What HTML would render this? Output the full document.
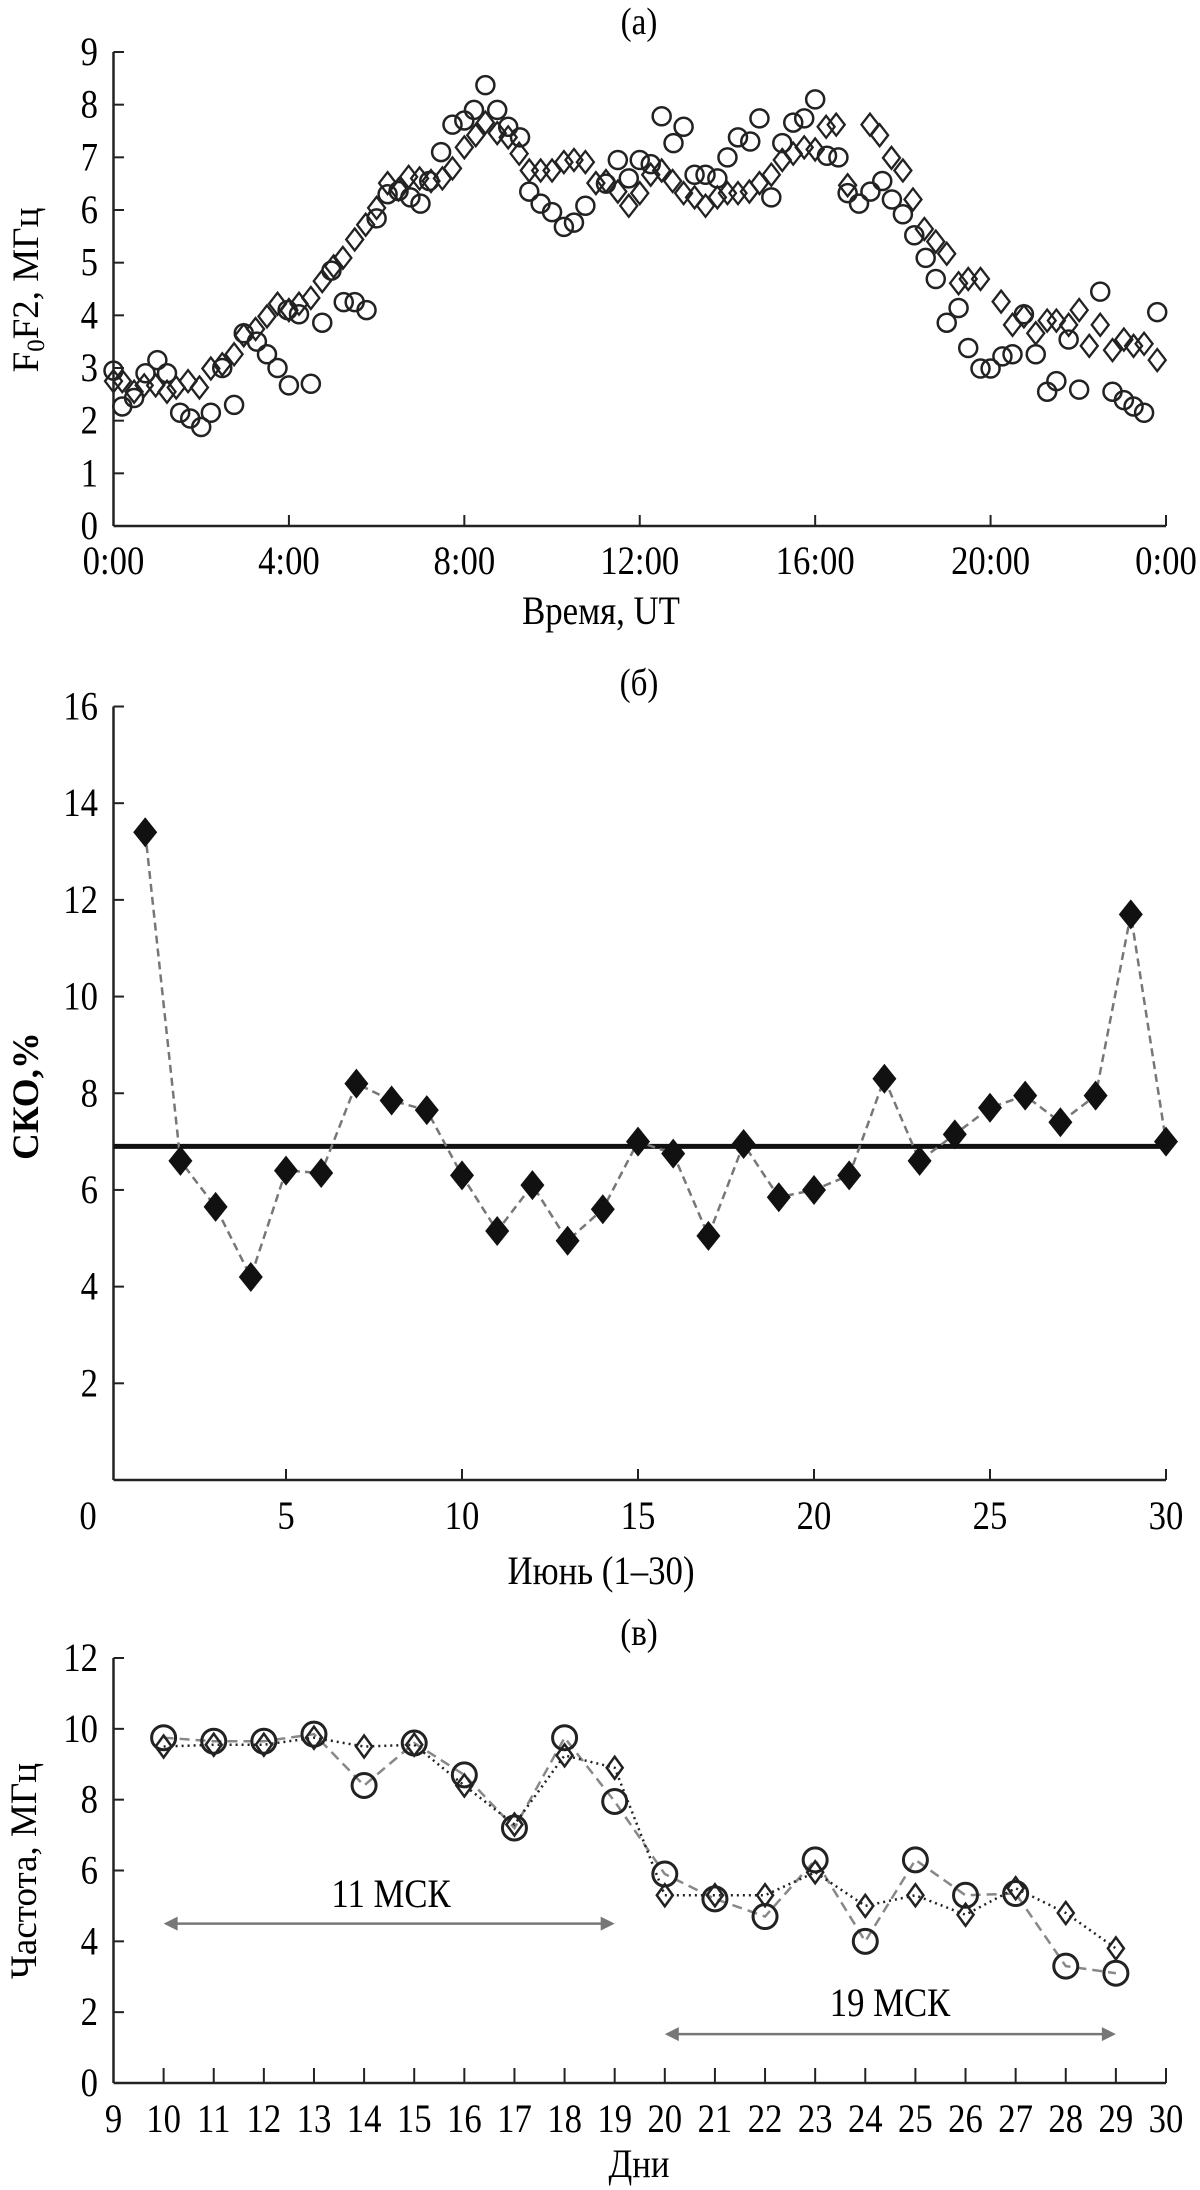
<!DOCTYPE html>
<html><head><meta charset="utf-8"><style>
html,body{margin:0;padding:0;background:#fff;}
svg{display:block;font-family:"Liberation Serif",serif;}
</style></head><body>
<svg id="fig" width="1200" height="2190" viewBox="0 0 1200 2190" xmlns="http://www.w3.org/2000/svg">
<text transform="translate(639,34) scale(0.87,1)" font-size="38" text-anchor="middle">(a)</text>
<text transform="translate(601,624) scale(0.87,1)" font-size="40" text-anchor="middle">Время, UT</text>
<text transform="translate(38,290) rotate(-90)" font-size="37" text-anchor="middle">F<tspan font-size="25" dy="6">0</tspan><tspan dy="-6">F2, МГц</tspan></text>
<text transform="translate(639,695) scale(0.87,1)" font-size="38" text-anchor="middle">(б)</text>
<text transform="translate(601,1584) scale(0.87,1)" font-size="40" text-anchor="middle">Июнь (1–30)</text>
<text transform="translate(38,1096) rotate(-90)" font-size="37" font-weight="bold" text-anchor="middle">СКО,%</text>
<text transform="translate(639,1645) scale(0.87,1)" font-size="38" text-anchor="middle">(в)</text>
<text transform="translate(639,2177) scale(0.87,1)" font-size="40" text-anchor="middle">Дни</text>
<text transform="translate(36,1871) rotate(-90)" font-size="37" text-anchor="middle">Частота, МГц</text>
</svg>
<script>
// Panel (a): hour-of-day, foF2 (MHz)
const aCircleHours=[0,0.2,0.47,0.73,1.0,1.22,1.52,1.75,2.0,2.22,2.48,2.75,2.97,3.27,3.5,3.74,3.97,4.0,4.23,4.5,4.76,4.97,5.25,5.5,5.77,6.0,6.25,6.5,6.77,7.0,7.2,7.47,7.73,8.0,8.22,8.48,8.75,9.0,9.27,9.48,9.74,10.0,10.27,10.5,10.76,11.23,11.5,11.75,12.0,12.25,12.5,12.77,13.0,13.25,13.5,13.77,14.0,14.24,14.52,14.73,15.0,15.25,15.5,15.75,16.0,16.27,16.53,16.74,17.0,17.26,17.53,17.75,18.0,18.26,18.52,18.75,19.0,19.27,19.49,19.77,20.0,20.27,20.5,20.76,21.03,21.29,21.5,21.78,22.02,22.5,22.78,23.04,23.26,23.5,23.8];
const aCircleValues=[2.95,2.27,2.43,2.9,3.15,2.9,2.15,2.04,1.88,2.15,3.0,2.3,3.66,3.5,3.26,3.0,4.1,2.67,4.02,2.7,3.86,4.85,4.25,4.25,4.1,5.84,6.3,6.36,6.24,6.12,6.55,7.1,7.62,7.7,7.9,8.37,7.9,7.58,7.38,6.35,6.12,5.96,5.68,5.76,6.08,6.5,6.95,6.6,6.95,6.87,7.78,7.27,7.58,6.67,6.67,6.6,7.0,7.38,7.3,7.74,6.24,7.27,7.66,7.74,8.1,7.03,7.0,6.32,6.12,6.35,6.55,6.2,5.92,5.52,5.09,4.69,3.86,4.14,3.38,2.99,2.99,3.22,3.26,4.02,3.26,2.55,2.75,3.54,2.59,4.45,2.55,2.39,2.27,2.15,4.06];
const aDiamondHours=[0,0.2,0.47,0.7,0.96,1.22,1.43,1.7,1.96,2.22,2.48,2.75,2.97,3.24,3.5,3.74,4.0,4.23,4.5,4.76,5.02,5.23,5.5,5.75,6.0,6.25,6.5,6.73,6.98,7.24,7.5,7.73,8.0,8.26,8.48,8.75,9.0,9.25,9.48,9.74,10.0,10.27,10.5,10.76,11.0,11.23,11.5,11.75,12.0,12.25,12.5,12.75,13.0,13.25,13.5,13.77,14.0,14.24,14.5,14.73,15.0,15.25,15.5,15.75,16.0,16.25,16.48,16.74,17.25,17.47,17.74,18.0,18.23,18.49,18.75,19.0,19.27,19.49,19.77,20.24,20.5,20.76,21.03,21.29,21.5,21.78,22.02,22.25,22.5,22.78,23.04,23.26,23.5,23.8];
const aDiamondValues=[2.75,2.75,2.55,2.67,2.67,2.55,2.63,2.75,2.63,2.99,3.07,3.26,3.62,3.74,3.98,4.22,4.1,4.22,4.33,4.65,4.93,5.09,5.44,5.72,6.04,6.51,6.39,6.63,6.6,6.55,6.6,6.79,7.19,7.42,7.66,7.46,7.38,7.07,6.75,6.75,6.75,6.91,6.95,6.91,6.51,6.55,6.35,6.08,6.32,6.67,6.75,6.55,6.32,6.24,6.08,6.24,6.32,6.32,6.35,6.51,6.67,6.95,7.07,7.19,7.15,7.58,7.62,6.47,7.62,7.42,6.99,6.75,6.2,5.64,5.4,5.17,4.61,4.69,4.69,4.26,3.82,3.98,3.66,3.9,3.9,3.82,4.1,3.42,3.82,3.34,3.54,3.42,3.46,3.15];
const aXTickLabels=["0:00","4:00","8:00","12:00","16:00","20:00","0:00"];
const aYTickLabels=["0","1","2","3","4","5","6","7","8","9"];
// Panel (b)
const bDays=[1,2,3,4,5,6,7,8,9,10,11,12,13,14,15,16,17,18,19,20,21,22,23,24,25,26,27,28,29,30];
const bValues=[13.4,6.6,5.65,4.2,6.4,6.35,8.2,7.85,7.65,6.3,5.15,6.1,4.95,5.6,7.0,6.75,5.05,6.95,5.85,6.0,6.3,8.3,6.6,7.15,7.7,7.95,7.4,7.95,11.7,7.0];
const bMean=6.9;
const bXTickLabels=["0","5","10","15","20","25","30"];
const bYTickLabels=["2","4","6","8","10","12","14","16"];
// Panel (c)
const cDays=[10,11,12,13,14,15,16,17,18,19,20,21,22,23,24,25,26,27,28,29];
const cCircleValues=[9.75,9.65,9.65,9.85,8.4,9.6,8.7,7.2,9.75,7.95,5.9,5.2,4.7,6.3,4.0,6.3,5.3,5.35,3.3,3.1];
const cDiamondValues=[9.5,9.55,9.55,9.75,9.5,9.55,8.4,7.3,9.25,8.9,5.3,5.3,5.3,5.95,5.0,5.3,4.75,5.5,4.8,3.8];
const cXTickLabels=["9","10","11","12","13","14","15","16","17","18","19","20","21","22","23","24","25","26","27","28","29","30"];
const cYTickLabels=["0","2","4","6","8","10","12"];

const svg=document.getElementById('fig');
const NS='http://www.w3.org/2000/svg';
function mk(tag,attrs,parent){const e=document.createElementNS(NS,tag);for(const k in attrs)e.setAttribute(k,attrs[k]);(parent||svg).appendChild(e);return e;}
function txt(s,x,y,size,anchor){const t=mk('text',{transform:`translate(${x},${y}) scale(0.87,1)`,'font-size':size*1.14,'text-anchor':anchor||'middle'});t.textContent=s;return t;}
function diamondPts(x,y,w,h){return `${x},${y-h} ${x+w},${y} ${x},${y+h} ${x-w},${y}`;}

// ---------- Panel A ----------
const ax=h=>113.5+(h/24)*(1166-113.5);
const ay=v=>526-v*(526-52)/9;
let g=mk('g',{});


mk('line',{x1:113.5,y1:ay(0),x2:1166,y2:ay(0),stroke:'#222','stroke-width':2.5},g);
mk('line',{x1:113.5,y1:ay(0),x2:113.5,y2:ay(9),stroke:'#222','stroke-width':2.5},g);
aYTickLabels.forEach((l,i)=>{mk('line',{x1:113.5,y1:ay(i),x2:124,y2:ay(i),stroke:'#222','stroke-width':2},g);
 const t=txt(l,98,ay(i)+13,35,'end');
 
 });
aXTickLabels.forEach((l,i)=>{const x=ax(i*4);mk('line',{x1:x,y1:ay(0),x2:x,y2:ay(0)-11,stroke:'#222','stroke-width':2},g);
 const t=txt(l,x,574,35);
 
 });
aDiamondHours.forEach((h,i)=>{const p=mk('polygon',{points:diamondPts(ax(h),ay(aDiamondValues[i]),8.5,11),fill:'none',stroke:'#222','stroke-width':2.3});
 
 });
aCircleHours.forEach((h,i)=>{const c=mk('circle',{cx:ax(h),cy:ay(aCircleValues[i]),r:9,fill:'none',stroke:'#222','stroke-width':2.5});
 
 });

// ---------- Panel B ----------
const bx=d=>110+d*(1166-110)/30;
const by=v=>1480-v*(1480-706.5)/16;
g=mk('g',{});


mk('line',{x1:113.5,y1:by(0),x2:1166,y2:by(0),stroke:'#222','stroke-width':2.5},g);
mk('line',{x1:113.5,y1:by(0),x2:113.5,y2:by(16),stroke:'#222','stroke-width':2.5},g);
bYTickLabels.forEach((l,i)=>{const v=(i+1)*2;mk('line',{x1:113.5,y1:by(v),x2:124,y2:by(v),stroke:'#222','stroke-width':2},g);
 const t=txt(l,98,by(v)+13,35,'end');
 
 });
bXTickLabels.forEach((l,i)=>{const x=bx(i*5);if(i>0)mk('line',{x1:x,y1:by(0),x2:x,y2:by(0)-11,stroke:'#222','stroke-width':2},g);
 const t=txt(l,i===0?88:x,1529,35);
 
 });
let mean=mk('line',{x1:113.5,y1:by(bMean),x2:1166,y2:by(bMean),stroke:'#111','stroke-width':5});


let bl=mk('polyline',{points:bDays.map((d,i)=>bx(d)+','+by(bValues[i])).join(' '),fill:'none',stroke:'#777','stroke-width':2.5,'stroke-dasharray':'8,5'});


bDays.forEach((d,i)=>{const p=mk('polygon',{points:diamondPts(bx(d),by(bValues[i]),12,15),fill:'#111'});
 
 });

// ---------- Panel C ----------
const cx=d=>113.5+(d-9)*(1166-113.5)/21;
const cy=v=>2083-v*(2083-1658)/12;
g=mk('g',{});


mk('line',{x1:113.5,y1:cy(0),x2:1166,y2:cy(0),stroke:'#222','stroke-width':2.5},g);
mk('line',{x1:113.5,y1:cy(0),x2:113.5,y2:cy(12),stroke:'#222','stroke-width':2.5},g);
cYTickLabels.forEach((l,i)=>{const v=i*2;mk('line',{x1:113.5,y1:cy(v),x2:124,y2:cy(v),stroke:'#222','stroke-width':2},g);
 const t=txt(l,98,cy(v)+13,35,'end');
 
 });
cXTickLabels.forEach((l,i)=>{const x=cx(9+i);mk('line',{x1:x,y1:cy(0),x2:x,y2:cy(0)-15,stroke:'#222','stroke-width':2},g);
 const t=txt(l,x,2132,35);
 
 });
let cl1=mk('polyline',{points:cDays.map((d,i)=>cx(d)+','+cy(cCircleValues[i])).join(' '),fill:'none',stroke:'#888','stroke-width':2.5,'stroke-dasharray':'10,6'});


let cl2=mk('polyline',{points:cDays.map((d,i)=>cx(d)+','+cy(cDiamondValues[i])).join(' '),fill:'none',stroke:'#222','stroke-width':2.5,'stroke-dasharray':'2,4'});


cDays.forEach((d,i)=>{const c=mk('circle',{cx:cx(d),cy:cy(cCircleValues[i]),r:12,fill:'none',stroke:'#222','stroke-width':3});
 
 });
cDays.forEach((d,i)=>{const p=mk('polygon',{points:diamondPts(cx(d),cy(cDiamondValues[i]),8,11),fill:'none',stroke:'#222','stroke-width':2.5});
 
 });
function arrow(x1,x2,y,name){const a=mk('g',{});
 
 
 mk('line',{x1:x1+8,y1:y,x2:x2-8,y2:y,stroke:'#777','stroke-width':2.5},a);
 mk('polygon',{points:`${x1},${y} ${x1+14},${y-7} ${x1+14},${y+7}`,fill:'#777'},a);
 mk('polygon',{points:`${x2},${y} ${x2-14},${y-7} ${x2-14},${y+7}`,fill:'#777'},a);}
arrow(cx(10),cx(19),cy(4.5),'arrow-11-msk');
arrow(cx(20),cx(29),cy(1.38),'arrow-19-msk');
let l1=txt('11 МСК',391,1907,35);


let l2=txt('19 МСК',890,2016,35);


</script>
</body></html>
